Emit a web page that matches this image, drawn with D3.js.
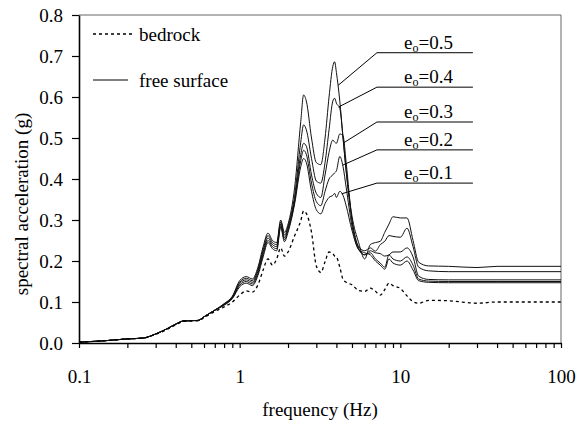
<!DOCTYPE html>
<html>
<head>
<meta charset="utf-8">
<script src="https://cdn.jsdelivr.net/npm/d3@7"></script>
<style>
  body { margin: 0; background: #fff; }
  svg { display: block; }
  text { font-family: "Liberation Serif", "Times New Roman", serif; fill: #000; }
</style>
</head>
<body>
<svg width="577" height="425"></svg>
<script>
// frequency grid (Hz)
const freq = [0.1, 0.15, 0.2, 0.25, 0.3, 0.35, 0.4, 0.45, 0.55, 0.6,
  0.7, 0.8, 0.9, 1.0, 1.1, 1.2, 1.3, 1.4, 1.5, 1.6,
  1.7, 1.8, 1.9, 2.0, 2.2, 2.4, 2.5, 2.6, 2.8, 3.0,
  3.2, 3.4, 3.6, 3.8, 3.9, 4.0, 4.2, 4.4, 4.6, 5.0,
  5.5, 6.0, 6.5, 7.0, 7.5, 8.0, 8.5, 9.0, 10, 11,
  12, 13, 15, 20, 30, 40, 100];

const bedrock = [0.002, 0.006, 0.010, 0.012, 0.021, 0.032, 0.044, 0.053, 0.054, 0.062,
  0.077, 0.088, 0.100, 0.117, 0.127, 0.124, 0.142, 0.178, 0.205, 0.190,
  0.205, 0.232, 0.212, 0.222, 0.262, 0.298, 0.322, 0.316, 0.270, 0.188,
  0.172, 0.198, 0.222, 0.218, 0.212, 0.210, 0.185, 0.155, 0.148, 0.142,
  0.128, 0.126, 0.134, 0.126, 0.117, 0.130, 0.146, 0.140, 0.133, 0.115,
  0.101, 0.097, 0.104, 0.103, 0.097, 0.100, 0.100];

const e05 = [0.002, 0.006, 0.010, 0.012, 0.022, 0.034, 0.046, 0.054, 0.055, 0.064,
  0.080, 0.096, 0.114, 0.152, 0.162, 0.156, 0.185, 0.235, 0.268, 0.250,
  0.245, 0.300, 0.270, 0.290, 0.380, 0.540, 0.605, 0.590, 0.500, 0.440,
  0.435, 0.500, 0.600, 0.675, 0.686, 0.660, 0.590, 0.500, 0.420, 0.310,
  0.245, 0.205, 0.240, 0.245, 0.248, 0.270, 0.290, 0.308, 0.305, 0.305,
  0.250, 0.197, 0.188, 0.187, 0.184, 0.187, 0.187];

const e04 = [0.002, 0.006, 0.010, 0.012, 0.022, 0.034, 0.046, 0.054, 0.055, 0.064,
  0.080, 0.095, 0.112, 0.148, 0.158, 0.152, 0.180, 0.228, 0.262, 0.245,
  0.240, 0.295, 0.263, 0.285, 0.360, 0.490, 0.532, 0.520, 0.450, 0.395,
  0.390, 0.440, 0.520, 0.590, 0.597, 0.585, 0.572, 0.500, 0.420, 0.300,
  0.235, 0.225, 0.232, 0.224, 0.240, 0.248, 0.262, 0.260, 0.258, 0.280,
  0.235, 0.185, 0.176, 0.174, 0.174, 0.174, 0.174];

const e03 = [0.002, 0.006, 0.010, 0.012, 0.022, 0.034, 0.046, 0.054, 0.055, 0.064,
  0.080, 0.094, 0.111, 0.145, 0.154, 0.148, 0.175, 0.222, 0.256, 0.240,
  0.235, 0.290, 0.257, 0.280, 0.350, 0.460, 0.487, 0.480, 0.410, 0.365,
  0.355, 0.410, 0.465, 0.495, 0.490, 0.487, 0.510, 0.505, 0.440, 0.300,
  0.232, 0.215, 0.225, 0.220, 0.218, 0.212, 0.215, 0.222, 0.222, 0.232,
  0.210, 0.163, 0.155, 0.154, 0.154, 0.154, 0.154];

const e02 = [0.002, 0.006, 0.010, 0.012, 0.022, 0.034, 0.046, 0.054, 0.055, 0.064,
  0.080, 0.093, 0.110, 0.141, 0.150, 0.144, 0.170, 0.216, 0.250, 0.235,
  0.230, 0.286, 0.252, 0.275, 0.345, 0.445, 0.470, 0.460, 0.390, 0.345,
  0.335, 0.370, 0.400, 0.410, 0.415, 0.420, 0.455, 0.430, 0.380, 0.285,
  0.228, 0.215, 0.220, 0.205, 0.195, 0.185, 0.215, 0.205, 0.200, 0.210,
  0.190, 0.156, 0.151, 0.150, 0.150, 0.150, 0.150];

const e01 = [0.002, 0.006, 0.010, 0.012, 0.022, 0.034, 0.046, 0.054, 0.055, 0.064,
  0.080, 0.092, 0.108, 0.137, 0.146, 0.140, 0.165, 0.210, 0.245, 0.230,
  0.225, 0.282, 0.247, 0.270, 0.340, 0.430, 0.450, 0.440, 0.370, 0.325,
  0.315, 0.340, 0.355, 0.360, 0.365, 0.355, 0.370, 0.360, 0.335, 0.275,
  0.228, 0.220, 0.215, 0.200, 0.190, 0.180, 0.205, 0.195, 0.190, 0.200,
  0.178, 0.152, 0.148, 0.147, 0.147, 0.147, 0.147];

const surfaceSeries = [e05, e04, e03, e02, e01];
const labelText = ["0.5", "0.4", "0.3", "0.2", "0.1"];
// leader lines: frequency where each leader meets its curve, acc level of each label shelf
const leaderFreq = [4.09, 4.14, 4.45, 4.37, 4.32];
const shelfLevel = [0.708, 0.624, 0.539, 0.471, 0.390];
const shelfFreq = [7.15, 28.3];

const xTicks = [0.1, 0.2, 0.3, 0.4, 0.5, 0.6, 0.7, 0.8, 0.9,
  1, 2, 3, 4, 5, 6, 7, 8, 9, 10, 20, 30, 40, 50, 60, 70, 80, 90, 100];
const xLabels = [0.1, 1, 10, 100];
const yTicks = [0, 0.1, 0.2, 0.3, 0.4, 0.5, 0.6, 0.7, 0.8];

const svg = d3.select("svg");
const mLeft = 79, mRight = 561, mTop = 15, mBottom = 343;

const x = d3.scaleLog().domain([0.1, 100]).range([mLeft, mRight]);
const y = d3.scaleLinear().domain([0, 0.8]).range([mBottom, mTop]);

// value of a series at frequency f (linear in log f)
function valueAt(s, f) {
  let i = d3.bisectRight(freq, f);
  let t = (Math.log(f) - Math.log(freq[i - 1])) / (Math.log(freq[i]) - Math.log(freq[i - 1]));
  return s[i - 1] + t * (s[i] - s[i - 1]);
}

// frame top / right
svg.append("line").attr("x1", mLeft).attr("x2", mRight).attr("y1", mTop).attr("y2", mTop)
  .attr("stroke", "#666").attr("stroke-width", 1);
svg.append("line").attr("x1", mRight).attr("x2", mRight).attr("y1", mTop).attr("y2", mBottom)
  .attr("stroke", "#666").attr("stroke-width", 1);

let line = d3.line()
  .x(function(d) { return x(d[0]); })
  .y(function(d) { return y(d[1]); })
  .curve(d3.curveMonotoneX);

svg.append("g")
  .selectAll("path")
  .data(surfaceSeries)
  .enter()
  .append("path")
  .attr("d", function(s) { return line(freq.map((f, i) => [f, s[i]])); })
  .attr("fill", "none")
  .attr("stroke", "#111")
  .attr("stroke-width", 1);

svg.append("path")
  .attr("d", line(freq.map((f, i) => [f, bedrock[i]])))
  .attr("fill", "none")
  .attr("stroke", "#000")
  .attr("stroke-width", 1.3)
  .attr("stroke-dasharray", "3,3");

// axes
let xAxis = svg.append("g")
  .attr("transform", "translate(0," + mBottom + ")")
  .call(d3.axisBottom(x).tickValues(xTicks).tickSize(5).tickSizeOuter(0)
    .tickFormat(function(d) { return xLabels.includes(d) ? String(d) : ""; }));
xAxis.selectAll("text").attr("y", 40).attr("dy", null)
  .style("font-size", "19px").style("font-family", "Liberation Serif");

let yAxis = svg.append("g")
  .attr("transform", "translate(" + mLeft + ",0)")
  .call(d3.axisLeft(y).tickValues(yTicks).tickSize(7).tickSizeOuter(0).tickFormat(d3.format(".1f")));
yAxis.selectAll("text").attr("x", -16)
  .style("font-size", "19px").style("font-family", "Liberation Serif");

svg.selectAll(".domain").attr("stroke", "#000").attr("stroke-width", 1.6);
svg.selectAll(".tick line").attr("stroke", "#000").attr("stroke-width", 1.2);

// axis titles
svg.append("text")
  .attr("x", 320).attr("y", 416)
  .attr("text-anchor", "middle")
  .style("font-size", "19px")
  .text("frequency (Hz)");

svg.append("text")
  .attr("transform", "translate(28,204) rotate(-90)")
  .attr("text-anchor", "middle")
  .style("font-size", "19px")
  .text("spectral acceleration (g)");

// legend
svg.append("line").attr("x1", 93).attr("x2", 133).attr("y1", 34).attr("y2", 34)
  .attr("stroke", "#000").attr("stroke-width", 1.3).attr("stroke-dasharray", "3,3");
svg.append("text").attr("x", 139).attr("y", 41).style("font-size", "19px").text("bedrock");
svg.append("line").attr("x1", 93).attr("x2", 128).attr("y1", 80).attr("y2", 80)
  .attr("stroke", "#000").attr("stroke-width", 1);
svg.append("text").attr("x", 139).attr("y", 87).style("font-size", "19px").text("free surface");

// e_o labels with leader lines
let ann = svg.append("g")
  .selectAll("g")
  .data(labelText)
  .enter()
  .append("g");

ann.append("polyline")
  .attr("points", function(d, i) {
    let f = leaderFreq[i];
    return [[x(f), y(valueAt(surfaceSeries[i], f))],
            [x(shelfFreq[0]), y(shelfLevel[i])],
            [x(shelfFreq[1]), y(shelfLevel[i])]].join(" ");
  })
  .attr("fill", "none")
  .attr("stroke", "#000")
  .attr("stroke-width", 1);

let lab = ann.append("text")
  .attr("x", 404)
  .attr("y", function(d, i) { return y(shelfLevel[i]) - 4; })
  .style("font-size", "19px");
lab.append("tspan").text("e");
lab.append("tspan").attr("dy", 3).style("font-size", "12px").text("o");
lab.append("tspan").attr("dy", -3).text(function(d) { return "=" + d; });
</script>
</body>
</html>
